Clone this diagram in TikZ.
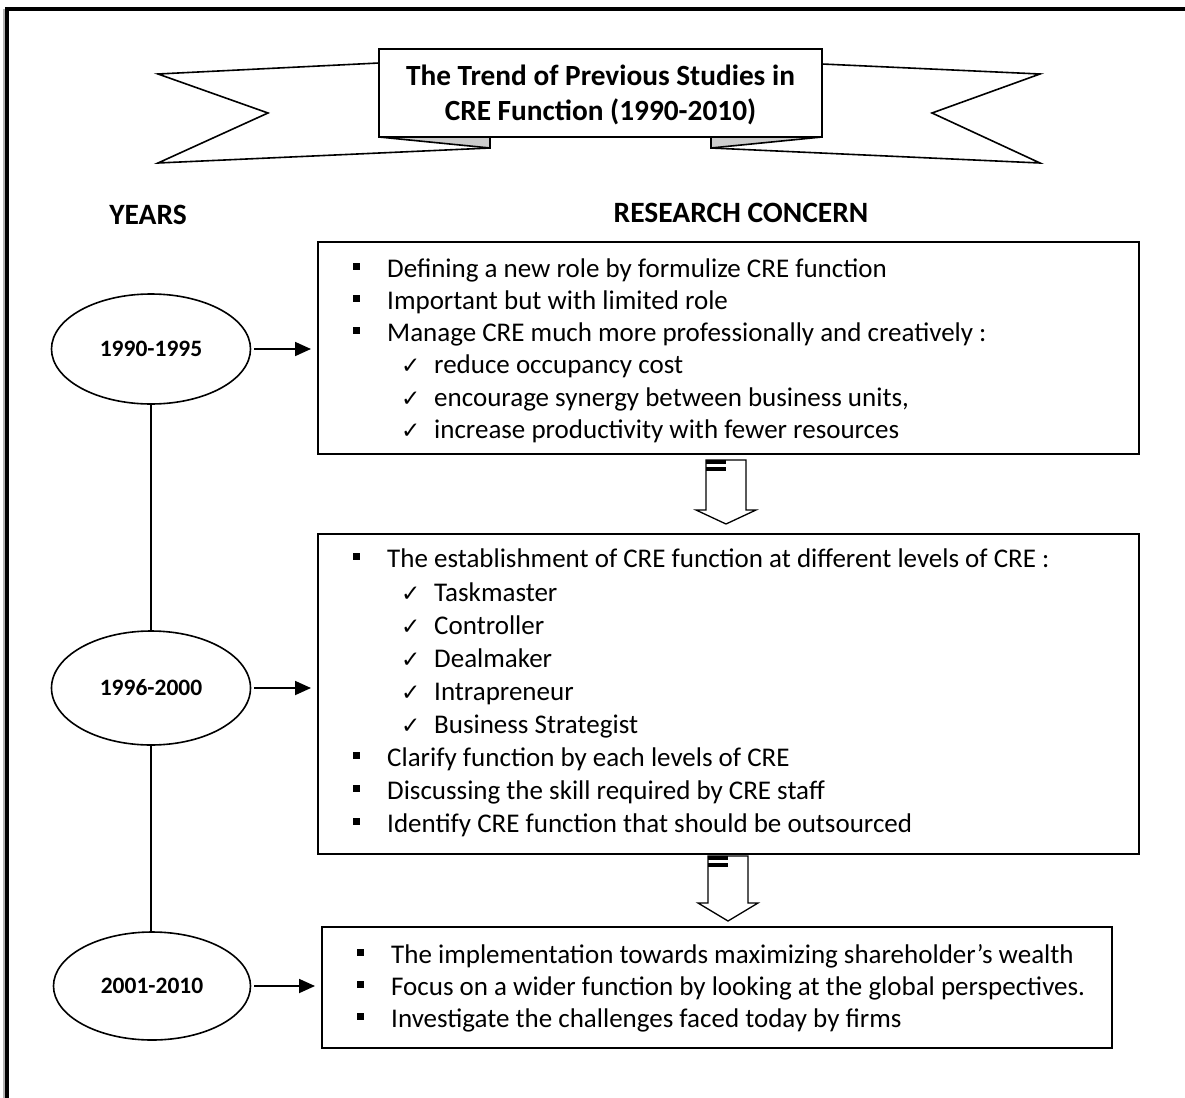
\documentclass[tikz,border=0pt]{standalone}
\usepackage{fontspec}
\setmainfont{Carlito}
\newfontfamily\djv{DejaVu Sans}
\usetikzlibrary{shapes.geometric,arrows.meta}
\newcommand{\sqb}{\makebox[34pt][l]{\rule[7.5pt]{7pt}{7pt}}}
\newcommand{\ck}{\makebox[33pt][l]{{\djv\fontsize{23}{23}\selectfont ✓}}}
\begin{document}
\begin{tikzpicture}[x=1pt,y=-1pt,
  line join=miter,
  ln/.style={anchor=base west,inner sep=0pt,font=\fontsize{27}{32}\selectfont},
  head/.style={font=\fontsize{29.5}{34}\selectfont\bfseries},
  yearel/.style={draw,line width=1.6pt,ellipse,inner sep=0pt,minimum width=199pt,minimum height=110pt,font=\fontsize{23.5}{28}\selectfont\bfseries},
  concern/.style={draw,line width=1.6pt,anchor=north west,inner sep=0pt},
  ptr/.style={line width=1.8pt,-{Triangle[length=16pt,width=14pt]},shorten >=6pt,shorten <=3pt},
  banner/.style={draw,line width=1.6pt,fill=white},
  fold/.style={draw,line width=1.6pt,fill=gray!40},
  blockarrow/.style={draw,line width=1.3pt,fill=white}]
\useasboundingbox (0,0) rectangle (1185,1097);
% frame
\draw[gray!60,line width=2pt] (4,9) -- (4,1100);
\draw[line width=3.5pt] (1190,9) -- (7,9) -- (7,1100);
% banner
\draw[banner] (379,63) -- (158,74) -- (268,113) -- (158,163) -- (490,148) -- (490,137) -- (379,137) -- cycle;
\draw[fold] (379,137) -- (490,148) -- (490,137) -- cycle;
\draw[banner] (822,64) -- (1040,74) -- (932,113) -- (1040,163) -- (711,148) -- (711,137) -- (822,137) -- cycle;
\draw[fold] (822,137) -- (711,148) -- (711,137) -- cycle;
\draw[banner] (379,49) rectangle (822,137);
\node[align=center,font=\fontsize{29.3}{35}\selectfont\bfseries] (title) at (600.5,95) {The Trend of Previous Studies in\\CRE Function (1990-2010)};
% headings
\node[head] (years) at (148,215) {YEARS};
\node[head] (rc) at (741,213) {RESEARCH CONCERN};
% boxes
\node[concern,minimum width=821pt,minimum height=212pt] (b1) at (317,241) {};
\node[concern,minimum width=821pt,minimum height=320pt] (b2) at (317,533) {};
\node[concern,minimum width=790pt,minimum height=121pt] (b3) at (321,926) {};
% box 1 text
\node[ln] (l11) at (353,277) {\sqb Defining a new role by formulize CRE function};
\node[ln] (l12) at (353,309.3) {\sqb Important but with limited role};
\node[ln] (l13) at (353,341.6) {\sqb Manage CRE much more professionally and creatively :};
\node[ln] (l14) at (401,373.9) {\ck reduce occupancy cost};
\node[ln] (l15) at (401,406.2) {\ck encourage synergy between business units,};
\node[ln] (l16) at (401,438.5) {\ck increase productivity with fewer resources};
% box 2 text
\node[ln] (l21) at (353,567) {\sqb The establishment of CRE function at different levels of CRE :};
\node[ln] (l22) at (401,601) {\ck Taskmaster};
\node[ln] (l23) at (401,634) {\ck Controller};
\node[ln] (l24) at (401,667) {\ck Dealmaker};
\node[ln] (l25) at (401,700) {\ck Intrapreneur};
\node[ln] (l26) at (401,733) {\ck Business Strategist};
\node[ln] (l27) at (353,766) {\sqb Clarify function by each levels of CRE};
\node[ln] (l28) at (353,799) {\sqb Discussing the skill required by CRE staff};
\node[ln] (l29) at (353,832) {\sqb Identify CRE function that should be outsourced};
% box 3 text
\node[ln] (l31) at (357,963) {\sqb The implementation towards maximizing shareholder’s wealth};
\node[ln] (l32) at (357,995) {\sqb Focus on a wider function by looking at the global perspectives.};
\node[ln] (l33) at (357,1027) {\sqb Investigate the challenges faced today by firms};
% ellipses
\node[yearel] (e1) at (151,349) {1990-1995};
\node[yearel,minimum height=114pt] (e2) at (151,688) {1996-2000};
\node[yearel,minimum width=197pt,minimum height=108pt] (e3) at (152,986) {2001-2010};
\draw[line width=1.6pt] (e1.south) -- (e2.north);
\draw[line width=1.6pt] (e2.south) -- (e2.south |- e3.north);
\draw[ptr] (e1.east) -- (e1.east -| b1.west);
\draw[ptr] (e2.east) -- (e2.east -| b2.west);
\draw[ptr] (e3.east) -- (e3.east -| b3.west);
% block arrows
\coordinate (a1) at (716,460);
\coordinate (a2) at (718,856);
\draw[blockarrow] ([xshift=-10pt]a1) -- ++(0,50) -- ++(-10,0) -- ++(30,14) -- ++(30,-14) -- ++(-10,0) -- ++(0,-50) -- cycle;
\fill ([xshift=-10pt]a1) rectangle ++(20,4);
\fill ([xshift=-10pt,yshift=-7pt]a1) rectangle ++(20,4);
\draw[blockarrow] ([xshift=-10pt]a2) -- ++(0,47) -- ++(-10,0) -- ++(30,18) -- ++(30,-18) -- ++(-10,0) -- ++(0,-47) -- cycle;
\fill ([xshift=-10pt]a2) rectangle ++(20,4);
\fill ([xshift=-10pt,yshift=-7pt]a2) rectangle ++(20,4);
\end{tikzpicture}
\end{document}
